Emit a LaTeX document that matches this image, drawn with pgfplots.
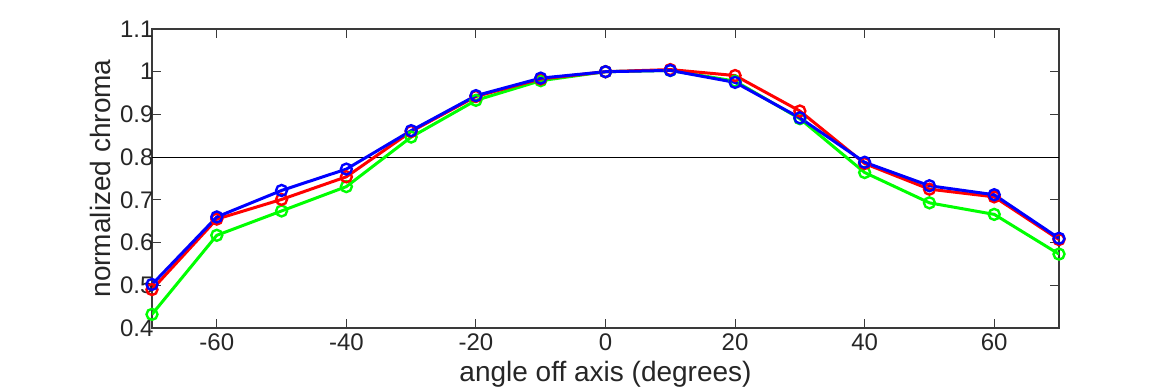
\documentclass[border=0pt]{standalone}
\usepackage{pgfplots}
\pgfplotsset{compat=1.18}
\usepackage{fontspec}
\setmainfont{Liberation Sans}
\definecolor{txt}{HTML}{262626}
\definecolor{axc}{HTML}{3A3A3A}
\begin{document}
\begin{tikzpicture}
\useasboundingbox (0,0) rectangle (1170pt,390pt);
\begin{axis}[
  at={(152pt,62pt)}, anchor=south west,
  scale only axis, width=907pt, height=299pt,
  xmin=-70, xmax=70, ymin=0.4, ymax=1.1,
  xtick={-60,-40,-20,0,20,40,60},
  ytick={0.4,0.5,0.6,0.7,0.8,0.9,1.0,1.1},
  yticklabel style={/pgf/number format/fixed,/pgf/number format/precision=1},
  /pgf/number format/assume math mode=true,
  tick align=inside, major tick length=9pt,
  tick style={axc, line width=1pt},
  axis line style={axc, line width=1.2pt},
  ticklabel style={font=\fontsize{24}{28}\selectfont, text=txt},
  xticklabel style={yshift=-2pt},
  yticklabel style={xshift=5pt},
  label style={font=\fontsize{28}{32}\selectfont, text=txt},
  xlabel={angle off axis (degrees)},
  ylabel={normalized chroma},
  xlabel style={at={(axis description cs:0.5,0)}, anchor=north, yshift=-30pt},
  ylabel style={at={(axis description cs:0,0.5)}, anchor=south, yshift=38pt},
  every axis plot/.append style={line width=3pt, mark=o, mark size=5.5pt, mark options={line width=2.4pt}},
]
\addplot[black, line width=1pt, mark=none, forget plot] coordinates {(-70,0.8) (70,0.8)};
\addplot[color={rgb,1:red,0;green,1;blue,0}] coordinates {
(-70,0.432) (-60,0.617) (-50,0.674) (-40,0.731) (-30,0.847) (-20,0.933) (-10,0.979) (0,1.0) (10,1.003) (20,0.978) (30,0.890) (40,0.764) (50,0.693) (60,0.666) (70,0.573)};
\addplot[color={rgb,1:red,1;green,0;blue,0}] coordinates {
(-70,0.490) (-60,0.655) (-50,0.701) (-40,0.754) (-30,0.860) (-20,0.942) (-10,0.983) (0,1.0) (10,1.005) (20,0.991) (30,0.908) (40,0.785) (50,0.725) (60,0.707) (70,0.607)};
\addplot[color={rgb,1:red,0;green,0;blue,1}] coordinates {
(-70,0.502) (-60,0.660) (-50,0.722) (-40,0.772) (-30,0.862) (-20,0.944) (-10,0.985) (0,1.0) (10,1.003) (20,0.975) (30,0.892) (40,0.788) (50,0.733) (60,0.712) (70,0.610)};
\end{axis}
\end{tikzpicture}
\end{document}
